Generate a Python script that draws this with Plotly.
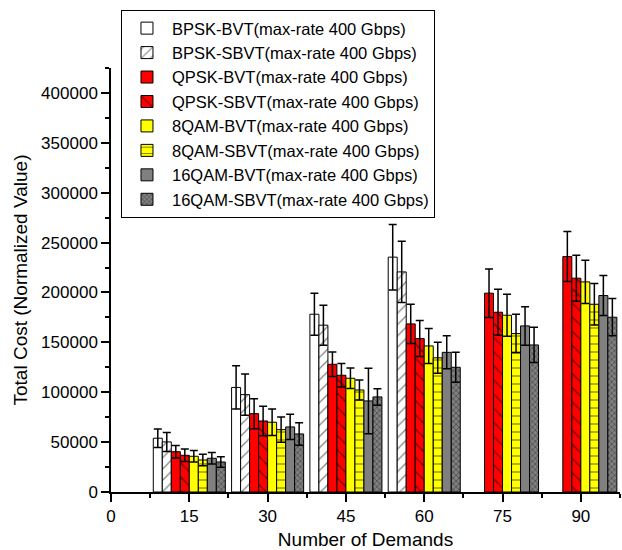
import plotly.graph_objects as go

demands = [15, 30, 45, 60, 75, 90]
x_ticks = [0, 15, 30, 45, 60, 75, 90]

names = [
    "BPSK-BVT(max-rate 400 Gbps)",
    "BPSK-SBVT(max-rate 400 Gbps)",
    "QPSK-BVT(max-rate 400 Gbps)",
    "QPSK-SBVT(max-rate 400 Gbps)",
    "8QAM-BVT(max-rate 400 Gbps)",
    "8QAM-SBVT(max-rate 400 Gbps)",
    "16QAM-BVT(max-rate 400 Gbps)",
    "16QAM-SBVT(max-rate 400 Gbps)",
]

bpsk_bvt = [53900, 104800, 178200, 235400, None, None]
bpsk_sbvt = [50200, 97600, 167200, 220600, None, None]
qpsk_bvt = [40400, 78500, 128000, 168500, 199300, 236000]
qpsk_sbvt = [36800, 71200, 117000, 153800, 180200, 214300]
qam8_bvt = [35800, 69900, 114000, 146400, 177200, 210600]
qam8_sbvt = [32100, 62500, 102300, 134500, 158800, 188200]
qam16_bvt = [33800, 65200, 91300, 140000, 166500, 196900]
qam16_sbvt = [30100, 58200, 95300, 125000, 147400, 175200]

bpsk_bvt_err = [9300, 21700, 21000, 32800, None, None]
bpsk_sbvt_err = [9500, 20700, 20000, 30700, None, None]
qpsk_bvt_err = [6300, 15000, 12300, 19700, 24300, 25000]
qpsk_sbvt_err = [6300, 14700, 11700, 18000, 23000, 23000]
qam8_bvt_err = [5700, 13300, 10300, 17500, 21000, 21700]
qam8_sbvt_err = [5700, 12700, 10000, 15500, 19300, 20700]
qam16_bvt_err = [5700, 12700, 32800, 16500, 19300, 20000]
qam16_sbvt_err = [5300, 11300, 8300, 15000, 17700, 18700]

values = [bpsk_bvt, bpsk_sbvt, qpsk_bvt, qpsk_sbvt, qam8_bvt, qam8_sbvt, qam16_bvt, qam16_sbvt]
errors = [bpsk_bvt_err, bpsk_sbvt_err, qpsk_bvt_err, qpsk_sbvt_err,
          qam8_bvt_err, qam8_sbvt_err, qam16_bvt_err, qam16_sbvt_err]

fill_colors = ["#FFFFFF", "#FFFFFF", "#FF0000", "#FF0000", "#FFFF00", "#FFFF00", "#808080", "#808080"]
patterns = ["", "/", "", "\\", "", "-", "", "x"]
pattern_sizes = [8, 8, 8, 10, 8, 8, 8, 4]

fig = go.Figure()
for name, vals, errs, col, pat, psz in zip(names, values, errors, fill_colors, patterns, pattern_sizes):
    fig.add_trace(go.Bar(
        x=demands,
        y=vals,
        name=name,
        marker=dict(
            color=col,
            line=dict(color="black", width=1),
            pattern=dict(shape=pat, fgcolor="black", bgcolor=col, size=psz,
                         solidity=0.3 if pat == "x" else 0.15),
        ),
        error_y=dict(type="data", array=errs, visible=True, color="black", thickness=1.5, width=4),
    ))

font_family = "Liberation Sans, Arial, sans-serif"

fig.update_layout(
    width=622,
    height=550,
    margin=dict(l=111, r=2, t=68, b=58),
    paper_bgcolor="white",
    plot_bgcolor="white",
    barmode="group",
    bargap=0.08,
    bargroupgap=0,
    font=dict(family=font_family, size=17, color="black"),
    showlegend=True,
    legend=dict(
        x=0.0196, y=1.137, xanchor="left", yanchor="top",
        bgcolor="white", bordercolor="black", borderwidth=1,
        font=dict(family=font_family, size=16.5, color="black"),
        tracegroupgap=0,
        itemwidth=40,
    ),
    xaxis=dict(
        range=[0, 97.5],
        automargin=False,
        tickmode="array",
        tickvals=x_ticks,
        ticktext=[str(v) for v in x_ticks],
        ticks="outside", ticklen=8, tickwidth=1.5, tickcolor="black",
        minor=dict(tickmode="array", tickvals=[7.5, 22.5, 37.5, 52.5, 67.5, 82.5, 97.5],
                   ticks="outside", ticklen=4, tickwidth=1.5, tickcolor="black"),
        showline=True, linecolor="black", linewidth=1.5,
        showgrid=False, zeroline=False,
        title=dict(text="Number of Demands", font=dict(size=19), standoff=15),
        tickfont=dict(size=17),
    ),
    yaxis=dict(
        range=[0, 425000],
        automargin=False,
        dtick=50000, tick0=0,
        tickformat="d",
        ticks="outside", ticklen=8, tickwidth=1.5, tickcolor="black",
        minor=dict(dtick=25000, ticks="outside", ticklen=4, tickwidth=1.5, tickcolor="black"),
        showline=True, linecolor="black", linewidth=1.5,
        showgrid=False, zeroline=False,
        title=dict(text="Total Cost (Normalized Value)", font=dict(size=19), standoff=8),
        tickfont=dict(size=17),
    ),
)

fig.write_html("out.html", config={"displayModeBar": False},
               post_script="document.body.style.margin='0';")
